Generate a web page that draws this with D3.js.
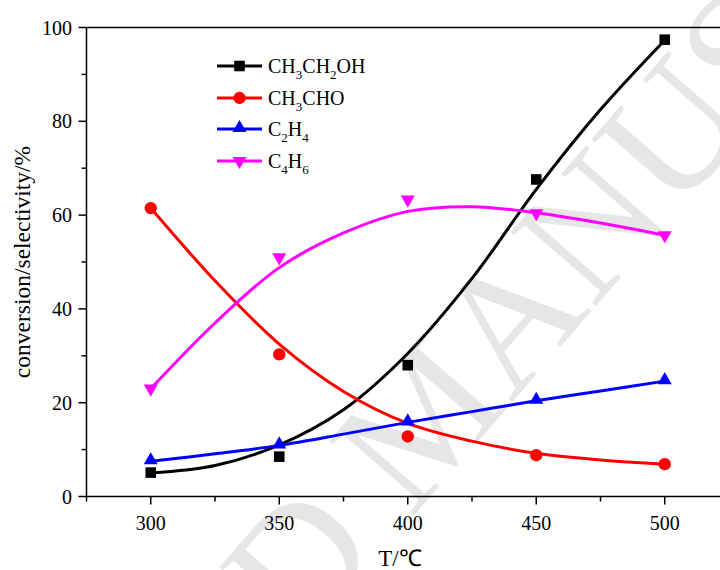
<!DOCTYPE html>
<html>
<head>
<meta charset="utf-8">
<script src="https://cdn.jsdelivr.net/npm/d3@7"></script>
<style>
  body { margin: 0; background: #fff; }
  svg { display: block; font-family: "Liberation Serif", "Times New Roman", serif; }
</style>
</head>
<body>
<div id="chart"></div>
<script>
// measured points
const temps = [300, 350, 400, 450, 500];
const ethanol = [5.1, 8.5, 28.0, 67.6, 97.4];
const acetaldehyde = [61.5, 30.3, 12.8, 8.8, 6.9];
const ethylene = [7.5, 10.9, 15.8, 20.4, 24.6];
const butadiene = [23.0, 51.0, 63.3, 60.4, 55.7];

// fitted curves
const fitTemps = [300, 325, 350, 375, 400, 425, 450, 475, 500];
const ethanolFit = [5.0, 6.6, 11.0, 18.5, 30.5, 46.5, 65.5, 82.5, 97.3];
const acetaldehydeFit = [61.5, 46.0, 32.5, 22.4, 15.6, 11.8, 9.2, 7.8, 6.9];
const ethyleneFit = [7.5, 9.1, 10.9, 13.3, 15.8, 18.1, 20.4, 22.5, 24.6];
const butadieneFit = [23.0, 37.0, 48.8, 56.2, 60.8, 61.8, 60.5, 58.3, 55.7];

const xMajor = [300, 350, 400, 450, 500];
const xMinor = [275, 325, 375, 425, 475, 525];
const yMajor = [0, 20, 40, 60, 80, 100];
const yMinor = [10, 30, 50, 70, 90];

// legend label pieces: [text, isSubscript]
const series = [
  { name: [["CH", 0], ["3", 1], ["CH", 0], ["2", 1], ["OH", 0]], color: "#000000", symbol: "square", pts: ethanol, fit: ethanolFit },
  { name: [["CH", 0], ["3", 1], ["CHO", 0]], color: "#ff0000", symbol: "circle", pts: acetaldehyde, fit: acetaldehydeFit },
  { name: [["C", 0], ["2", 1], ["H", 0], ["4", 1]], color: "#0000ff", symbol: "up", pts: ethylene, fit: ethyleneFit },
  { name: [["C", 0], ["4", 1], ["H", 0], ["6", 1]], color: "#ff00ff", symbol: "down", pts: butadiene, fit: butadieneFit }
];

const width = 720, height = 570;
const svg = d3.select("#chart").append("svg")
  .attr("width", width)
  .attr("height", height);

const x = d3.scaleLinear().domain([275, 525]).range([86.5, 729]);
const y = d3.scaleLinear().domain([0, 100]).range([496.5, 27.5]);

// watermark, centred on the "M"
const wmSize = 172;
const wm = svg.append("g").attr("transform", "translate(418,424) rotate(-49)");
const wmText = wm.append("text")
  .attr("font-size", wmSize)
  .attr("fill", "#e6e6e6")
  .text("ACCEPTED MANUSCRIPT");
const before = wmText.node().getSubStringLength(0, 9);
const mWidth = wmText.node().getSubStringLength(9, 1);
wmText.attr("x", -before - mWidth / 2).attr("y", wmSize * 0.33);

// axes
const axisG = svg.append("g").attr("stroke", "#000").attr("stroke-width", 1.5);
axisG.append("line").attr("x1", x(275)).attr("x2", x(525)).attr("y1", y(0)).attr("y2", y(0));
axisG.append("line").attr("x1", x(275)).attr("x2", x(525)).attr("y1", y(100)).attr("y2", y(100));
axisG.append("line").attr("x1", x(275)).attr("x2", x(275)).attr("y1", y(0)).attr("y2", y(100));

axisG.selectAll(".xmaj").data(xMajor).join("line")
  .attr("x1", d => x(d)).attr("x2", d => x(d))
  .attr("y1", y(0)).attr("y2", y(0) + 8);
axisG.selectAll(".xmin").data(xMinor).join("line")
  .attr("x1", d => x(d)).attr("x2", d => x(d))
  .attr("y1", y(0)).attr("y2", y(0) + 5);
axisG.selectAll(".ymaj").data(yMajor).join("line")
  .attr("x1", x(275) - 8).attr("x2", x(275))
  .attr("y1", d => y(d)).attr("y2", d => y(d));
axisG.selectAll(".ymin").data(yMinor).join("line")
  .attr("x1", x(275) - 5).attr("x2", x(275))
  .attr("y1", d => y(d)).attr("y2", d => y(d));

svg.append("g").selectAll("text").data(xMajor).join("text")
  .attr("x", d => x(d)).attr("y", 530)
  .attr("text-anchor", "middle").attr("font-size", 20)
  .text(d => d);
svg.append("g").selectAll("text").data(yMajor).join("text")
  .attr("x", 72).attr("y", d => y(d) + 7)
  .attr("text-anchor", "end").attr("font-size", 20)
  .text(d => d);

svg.append("text")
  .attr("x", 400).attr("y", 566)
  .attr("text-anchor", "middle").attr("font-size", 23)
  .text("T/℃");
svg.append("text")
  .attr("transform", "translate(30,262) rotate(-90)")
  .attr("text-anchor", "middle").attr("font-size", 23.5)
  .text("conversion/selectivity/%");

// symbols
const symbolPath = {
  square: d3.symbol(d3.symbolSquare, 112)(),
  circle: d3.symbol(d3.symbolCircle, 120)(),
  up: d3.symbol(d3.symbolTriangle, 85)(),
  down: d3.symbol(d3.symbolTriangle, 85)()
};
const symbolTransform = (s, px, py) =>
  s === "down" ? `translate(${px},${py}) rotate(180)` :
  s === "up" ? `translate(${px},${py - 1})` : `translate(${px},${py})`;

const line = d3.line()
  .x((d, i) => x(fitTemps[i]))
  .y(d => y(d))
  .curve(d3.curveCatmullRom.alpha(0.5));

series.forEach(s => {
  svg.append("path")
    .attr("d", line(s.fit))
    .attr("fill", "none")
    .attr("stroke", s.color)
    .attr("stroke-width", 3);
  svg.append("g").selectAll("path").data(s.pts).join("path")
    .attr("d", symbolPath[s.symbol])
    .attr("transform", (d, i) => symbolTransform(s.symbol, x(temps[i]), y(d)))
    .attr("fill", s.color);
});

// legend
const legendRows = [66, 98, 129, 161];
series.forEach((s, i) => {
  const ly = legendRows[i];
  const g = svg.append("g");
  g.append("line")
    .attr("x1", 217).attr("x2", 262).attr("y1", ly).attr("y2", ly)
    .attr("stroke", s.color).attr("stroke-width", 3);
  g.append("path")
    .attr("d", symbolPath[s.symbol])
    .attr("transform", symbolTransform(s.symbol, 239.5, ly))
    .attr("fill", s.color);
  const t = g.append("text").attr("x", 268).attr("y", ly + 7).attr("font-size", 20);
  let shifted = false;
  s.name.forEach(([txt, sub]) => {
    const ts = t.append("tspan").text(txt);
    if (sub && !shifted) { ts.attr("dy", 6).attr("font-size", 13); shifted = true; }
    else if (!sub && shifted) { ts.attr("dy", -6); shifted = false; }
    else if (sub) ts.attr("font-size", 13);
  });
});
</script>
</body>
</html>
